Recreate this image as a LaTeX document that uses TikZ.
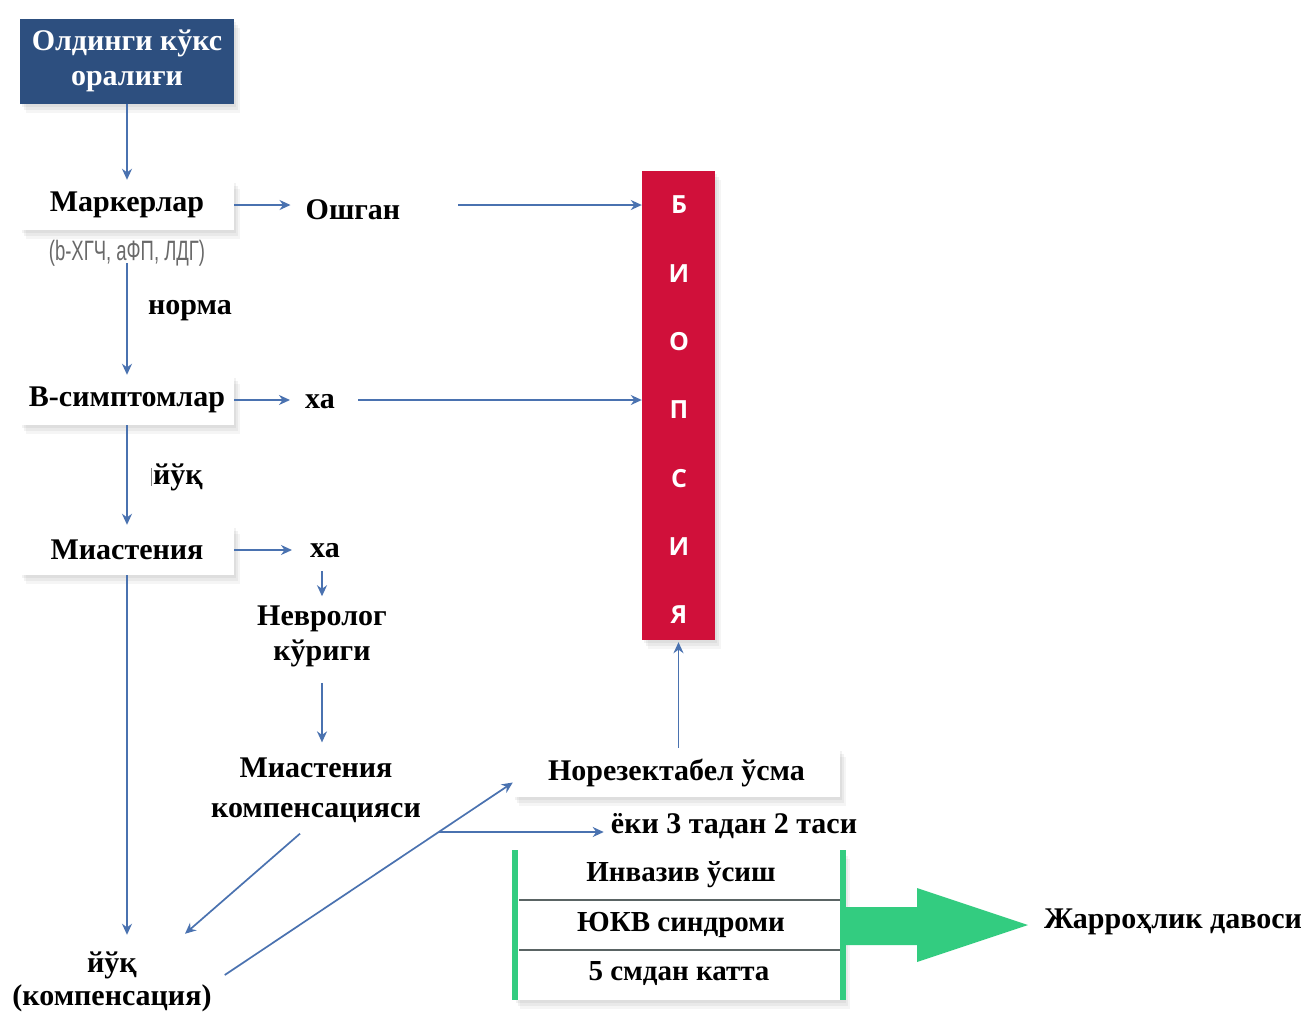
\documentclass[tikz,border=0pt]{standalone}
\usepackage{fontspec}
\usepackage{graphicx}
\setmainfont{Liberation Serif}
\newfontfamily\biofont{Open Sans}
\newfontfamily\grayfont{Liberation Sans}
\usetikzlibrary{arrows.meta,shadows}
\definecolor{arrblue}{RGB}{74,114,176}
\definecolor{topblue}{RGB}{45,79,127}
\definecolor{biored}{RGB}{208,16,58}
\definecolor{tgreen}{RGB}{51,204,128}
\definecolor{lgray}{RGB}{105,105,105}
\definecolor{divgray}{RGB}{90,100,100}
\newcommand\mytxt{\fontsize{30}{36}\selectfont\bfseries}
\begin{document}
\begin{tikzpicture}[x=1pt,y=-1pt,
  arr/.style={draw=arrblue, line width=1.7pt, -{Stealth[length=11pt,width=10pt]}},
  softshadow/.style={drop shadow={opacity=0.10,shadow xshift=2pt,shadow yshift=-3pt},
                     drop shadow={opacity=0.10,shadow xshift=4pt,shadow yshift=-6pt},
                     drop shadow={opacity=0.08,shadow xshift=6pt,shadow yshift=-9pt}},
  wbox/.style={fill=white, minimum width=214pt, minimum height=50pt, softshadow, font=\mytxt, inner sep=2pt},
  topbox/.style={fill=topblue, text=white, minimum width=214pt, minimum height=85pt, align=center, softshadow, font=\fontsize{30}{35}\selectfont\bfseries},
  lbl/.style={font=\mytxt, inner sep=3pt},
  biol/.style={font=\biofont\fontsize{25}{25}\selectfont\bfseries, text=white},
  rowtxt/.style={font=\fontsize{29}{32}\selectfont\bfseries, minimum width=324pt, minimum height=50pt, inner sep=0pt}
]
\useasboundingbox (0,0) rectangle (1309,1012);
\fill[white] (0,0) rectangle (1309,1012);

% left column
\node[topbox] (start) at (127,61) {Олдинги кўкс\\оралиғи};
\node[wbox] (mark) at (127,205) {Маркерлар};
\node[font=\grayfont\fontsize{28}{28}\selectfont, text=lgray, inner sep=2pt] (markl) at (127,253) {\scalebox{0.66}[1]{(b-ХГЧ, аФП, ЛДГ)}};
\node[lbl] (norma) at (190,311) {норма};
\node[wbox] (vs) at (127,400) {В-симптомлар};
\node[lbl] (yuq1) at (178,477) {йўқ};
\draw[gray, line width=0.8pt] (151,468) -- (151,486);
\node[wbox] (mia) at (127,550) {Миастения};
\node[lbl, align=center, font=\fontsize{30}{33}\selectfont\bfseries] (yuq) at (112,982) {йўқ\\(компенсация)};

% middle labels
\node[lbl] (osh) at (353,210) {Ошган};
\node[lbl] (xa1) at (320,402) {ха};
\node[lbl] (xa2) at (325,551) {ха};
\node[lbl, align=center, font=\fontsize{30}{35}\selectfont\bfseries] (nev) at (322,636) {Невролог\\кўриги};
\node[lbl, align=center, font=\fontsize{30}{40}\selectfont\bfseries] (mk) at (316,790) {Миастения\\компенсацияси};

% biopsy column
\node[fill=biored, minimum width=73pt, minimum height=469pt, inner sep=0pt, softshadow] (bio) at (678.5,405.5) {};
\foreach \l [count=\i] in {Б,И,О,П,С,И,Я}
  \node[biol] (b\i) at ({679},{205+68.3*(\i-1)}) {\l};

% lower right
\node[wbox, minimum width=327pt, minimum height=49pt] (nor) at (676.5,772.5) {Норезектабел ўсма};
\node[lbl, fill=white] (eki) at (734,826) {ёки 3 тадан 2 таси};

\node[fill=white, minimum width=330pt, minimum height=150pt, inner sep=0pt, softshadow] (tbl) at (679,925) {};
\node[rowtxt] (r1) at (681,875) {Инвазив ўсиш};
\node[rowtxt] (r2) at (681,925) {ЮКВ синдроми};
\node[rowtxt] (r3) at (679,974) {5 смдан катта};
\draw[divgray, line width=1.5pt] (r1.south west) -- (r1.south east);
\draw[divgray, line width=1.5pt] (r2.south west) -- (r2.south east);
\fill[tgreen] (512,850) rectangle (518,1000);
\fill[tgreen] (840,850) rectangle (846,1000);
\fill[tgreen] (846,907) -- (917,907) -- (917,888) -- (1028,925) -- (917,962) -- (917,945) -- (846,945) -- cycle;
\node[lbl] (surg) at (1173,922) {Жарроҳлик давоси};

% connectors
\draw[arr] (start.south) -- (start.south |- mark.north);
\draw[arr] (markl.south) ++(0,5pt) -- (vs.north);
\draw[arr] (vs) -- (mia);
\draw[arr, shorten >=14pt] (mia.south) -- (mia.south |- yuq.north);

\draw[arr, shorten >=12pt] (mark.east) -- (mark.east -| osh.west);
\draw[arr] (osh.east |- mark.east) ++(55pt,0) -- (mark.east -| bio.west);
\draw[arr, shorten >=12pt] (vs.east) -- (vs.east -| xa1.west);
\draw[arr] (xa1.east |- vs.east) ++(20pt,0) -- (vs.east -| bio.west);
\draw[arr, shorten >=15pt] (mia.east) -- (mia.east -| xa2.west);
\draw[arr, shorten <=10pt, shorten >=6pt] (xa2.south -| nev.north) -- (nev.north);
\draw[arr, shorten <=13pt, shorten >=12pt] (nev.south) -- (nev.south |- mk.north);
\draw[arr] ([shift={(-16pt,-8pt)}]mk.south) -- ([shift={(73pt,15pt)}]yuq.north);
\draw[arr] ([shift={(10pt,7pt)}]yuq.east) -- ([yshift=-10pt]nor.west);
\draw[arr, shorten >=4pt] (mk.east |- eki.west) ++(15pt,-6pt) -- ([yshift=-6pt]eki.west);
\draw[arr, shorten >=2pt] (nor.north -| bio.south) -- (bio.south);
\end{tikzpicture}
\end{document}
